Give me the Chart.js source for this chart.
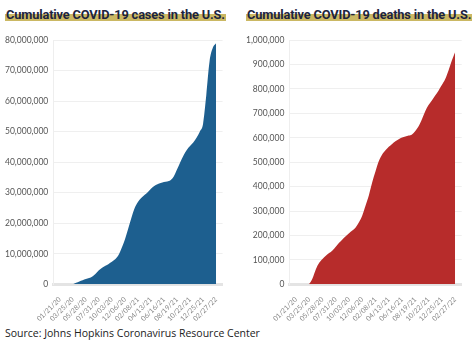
<!DOCTYPE html>
<html>
<head>
<meta charset="utf-8">
<script src="https://cdn.jsdelivr.net/npm/chart.js@4/dist/chart.umd.min.js"></script>
<style>
  html, body { margin: 0; padding: 0; background: #fff; }
  body { width: 474px; height: 342px; position: relative; overflow: hidden; font-family: "Open Sans", sans-serif; }
  .title {
    position: absolute; top: 7px; margin: 0;
    font-family: "Roboto", sans-serif; font-weight: 700; font-size: 12.8px;
    color: #1c2440; letter-spacing: -0.15px; white-space: nowrap;
    background: linear-gradient(to bottom, transparent 50%, #cbb863 50%, #cbb863 92%, transparent 92%);
    padding: 0 1px;
  }
  .box { position: absolute; top: 30px; height: 296px; }
  .source { position: absolute; left: 5px; top: 326px; font-size: 10.5px; color: #222; white-space: nowrap; }
</style>
</head>
<body>
<div class="title" style="left:5px">Cumulative COVID-19 cases in the U.S.</div>
<div class="title" style="left:246px">Cumulative COVID-19 deaths in the U.S.</div>
<div class="box" style="left:0px; width:225px"><canvas id="casesChart"></canvas></div>
<div class="box" style="left:241px; width:223px"><canvas id="deathsChart"></canvas></div>
<div class="source">Source: Johns Hopkins Coronavirus Resource Center</div>
<script>
// Datum alle 16 Tage
const dates = [
  "01/21/20", "02/06/20", "02/22/20", "03/09/20", "03/25/20", "04/10/20", "04/26/20",
  "05/12/20", "05/28/20", "06/13/20", "06/29/20", "07/15/20", "07/31/20", "08/16/20",
  "09/01/20", "09/17/20", "10/03/20", "10/19/20", "11/04/20", "11/20/20", "12/06/20",
  "12/22/20", "01/07/21", "01/23/21", "02/08/21", "02/24/21", "03/12/21", "03/28/21",
  "04/13/21", "04/29/21", "05/15/21", "05/31/21", "06/16/21", "07/02/21", "07/18/21",
  "08/03/21", "08/19/21", "09/04/21", "09/20/21", "10/06/21", "10/22/21", "11/07/21",
  "11/23/21", "12/09/21", "12/25/21", "01/10/22", "01/26/22", "02/11/22", "02/27/22"
];

// nur jedes vierte Datum als Achsenbeschriftung
const tickIndexes = [0, 4, 8, 12, 16, 20, 24, 28, 32, 36, 40, 44, 48];

// Fälle kumuliert
const cases = [
  0, 0, 0, 0, 70000, 500000, 960000,
  1370000, 1720000, 2070000, 2600000, 3500000, 4600000, 5400000,
  6100000, 6700000, 7400000, 8200000, 9500000, 11900000, 14700000,
  18200000, 21800000, 25000000, 27000000, 28300000, 29300000, 30200000,
  31300000, 32200000, 32800000, 33200000, 33500000, 33700000, 34100000,
  35300000, 37600000, 40000000, 42200000, 44000000, 45300000, 46500000,
  48000000, 50000000, 52500000, 62000000, 73000000, 77500000, 79000000
];

// Todesfälle kumuliert
const deaths = [
  0, 0, 0, 0, 3000, 25000, 62000,
  88000, 104000, 117000, 128000, 139000, 154000, 170000,
  184000, 197000, 209000, 220000, 233000, 254000, 282000,
  323000, 365000, 418000, 463000, 505000, 532000, 549000,
  563000, 575000, 586000, 594000, 601000, 605000, 609000,
  614000, 628000, 647000, 676000, 709000, 734000, 753000,
  773000, 793000, 816000, 840000, 875000, 915000, 950000
];

function makeChart(id, values, color, yMax, yStep) {
  const ctx = document.getElementById(id).getContext('2d');
  return new Chart(ctx, {
    type: 'line',
    data: {
      datasets: [{
        data: values.map((v, i) => ({ x: i, y: v })),
        backgroundColor: color,
        borderColor: color,
        borderWidth: 0,
        pointRadius: 0,
        fill: 'origin',
        tension: 0.4,
        cubicInterpolationMode: 'monotone'
      }]
    },
    options: {
      responsive: true,
      maintainAspectRatio: false,
      animation: false,
      layout: { padding: { top: 2, right: 0 } },
      plugins: {
        legend: { display: false },
        tooltip: { enabled: false }
      },
      scales: {
        x: {
          type: 'linear',
          min: -2,
          max: 50,
          afterBuildTicks: (axis) => { axis.ticks = tickIndexes.map(v => ({ value: v })); },
          grid: { display: false },
          border: { color: '#e4e4e4', width: 3 },
          ticks: {
            autoSkip: false,
            maxRotation: 45,
            minRotation: 45,
            padding: 3,
            color: '#888',
            font: { family: 'Lato', size: 7 },
            callback: (v) => dates[v]
          }
        },
        y: {
          min: 0,
          max: yMax,
          grid: { color: '#efefef', drawTicks: false },
          border: { color: '#eeeeee' },
          ticks: {
            stepSize: yStep,
            padding: 5,
            color: '#555',
            font: { family: 'Lato', size: 8.5 },
            callback: (v) => v.toLocaleString('en-US')
          }
        }
      }
    }
  });
}

makeChart('casesChart', cases, '#1d5f8f', 80000000, 10000000);
makeChart('deathsChart', deaths, '#b72c2b', 1000000, 100000);
</script>
</body>
</html>
